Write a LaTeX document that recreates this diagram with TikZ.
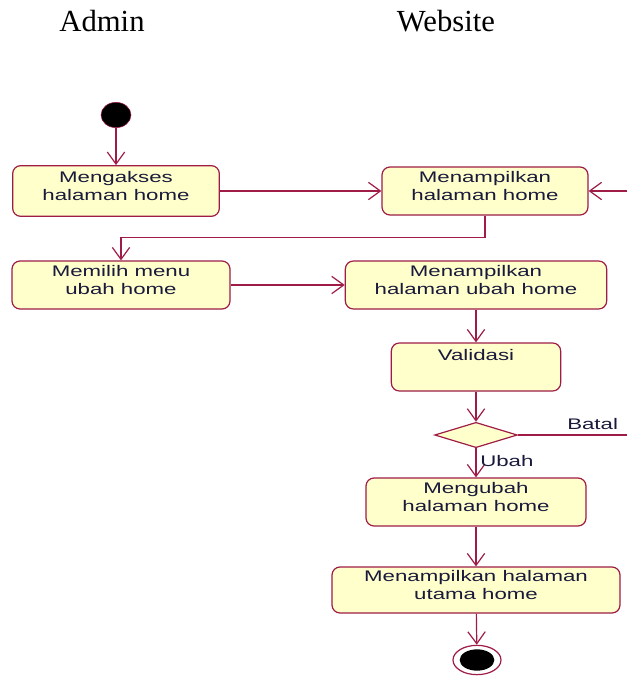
\documentclass[tikz,border=0pt]{standalone}
\usepackage{fontspec}
\usetikzlibrary{arrows.meta,shapes.geometric}
\newfontfamily\boxfont[FakeStretch=1.45]{Liberation Sans}
\newfontfamily\headfont{Liberation Serif}

\begin{document}
\begin{tikzpicture}[x=0.75pt, y=-0.75pt,
    actbox/.style={draw=umlred, fill=umlfill, rounded corners=6pt, line width=0.9pt,
      align=center, inner sep=0pt, text=umltext,
      font=\boxfont\fontsize{11.5}{13.5}\selectfont},
    lanehead/.style={anchor=base, font=\headfont\fontsize{23}{26}\selectfont},
    guard/.style={text=umltext, inner sep=0pt, font=\boxfont\fontsize{11.5}{13.5}\selectfont},
    flow/.style={draw=umlred, line width=0.9pt, -{Straight Barb[length=9pt,width=13pt]}}]
  \definecolor{umlred}{RGB}{158,28,70}
  \definecolor{umlfill}{RGB}{255,255,204}
  \definecolor{umltext}{RGB}{25,25,60}
  \clip (0,0) rectangle (627,677);

  % swimlane titles
  \node[lanehead] (admin) at (102,32) {Admin};
  \node[lanehead] (website) at (446,32) {Website};

  % start and activities
  \node[ellipse, fill=black, draw=umlred, minimum width=22.5pt, minimum height=19pt,
        inner sep=0pt] (start) at (116,115) {};
  \node[actbox, minimum width=155pt, minimum height=38pt] (akses) at (116,191)
       {Mengakses\\halaman home\\[-6pt]};
  \node[actbox, minimum width=154.5pt, minimum height=36pt] (tampilhome) at (485,191)
       {Menampilkan\\halaman home\\[-6pt]};
  \node[actbox, minimum width=163.5pt, minimum height=36pt] (pilihmenu) at (121,285)
       {Memilih menu\\ubah home\\[-6pt]};
  \node[actbox, minimum width=196pt, minimum height=36pt] (tampilubah) at (476,285)
       {Menampilkan\\halaman ubah home\\[-6pt]};
  \node[actbox, minimum width=127pt, minimum height=36pt] (validasi) at (476,367)
       {Validasi\\\strut};
  \node[diamond, draw=umlred, fill=umlfill, line width=0.9pt, inner sep=0pt,
        minimum width=62pt, minimum height=19pt] (pilih) at (476,435) {};
  \node[actbox, minimum width=165pt, minimum height=36pt] (ubah) at (476,502)
       {Mengubah\\halaman home\\[-6pt]};
  \node[actbox, minimum width=216pt, minimum height=34.5pt] (utama) at (476,590)
       {Menampilkan halaman\\utama home\\[-6pt]};

  % end state
  \node[ellipse, draw=umlred, line width=0.9pt, fill=white, minimum width=36pt,
        minimum height=22pt, inner sep=0pt] (finish) at (477,660) {};
  \node[ellipse, fill=black, minimum width=26pt, minimum height=16pt,
        inner sep=0pt] (finishdot) at (477,660) {};

  % flows
  \draw[flow] (start) -- (akses);
  \draw[flow] (akses) -- (tampilhome);
  \draw[flow] (tampilhome.south) -- ++(0,22) -| (pilihmenu.north);
  \draw[flow] (pilihmenu) -- (tampilubah);
  \draw[flow] (tampilubah) -- (validasi);
  \draw[flow] (validasi) -- (pilih);
  \draw[flow] (pilih) -- (ubah);
  \draw[flow] (ubah) -- (utama);
  \draw[flow] (utama) -- (finish);
  \coordinate (balik) at (660,435);
  \draw[flow] (pilih.east) -- (balik) |- (tampilhome.east);

  % guards
  \node[guard, anchor=west] (batal) at (567,424) {Batal};
  \node[guard, anchor=west] (ubahlbl) at (480,461) {Ubah};
\end{tikzpicture}
\end{document}
